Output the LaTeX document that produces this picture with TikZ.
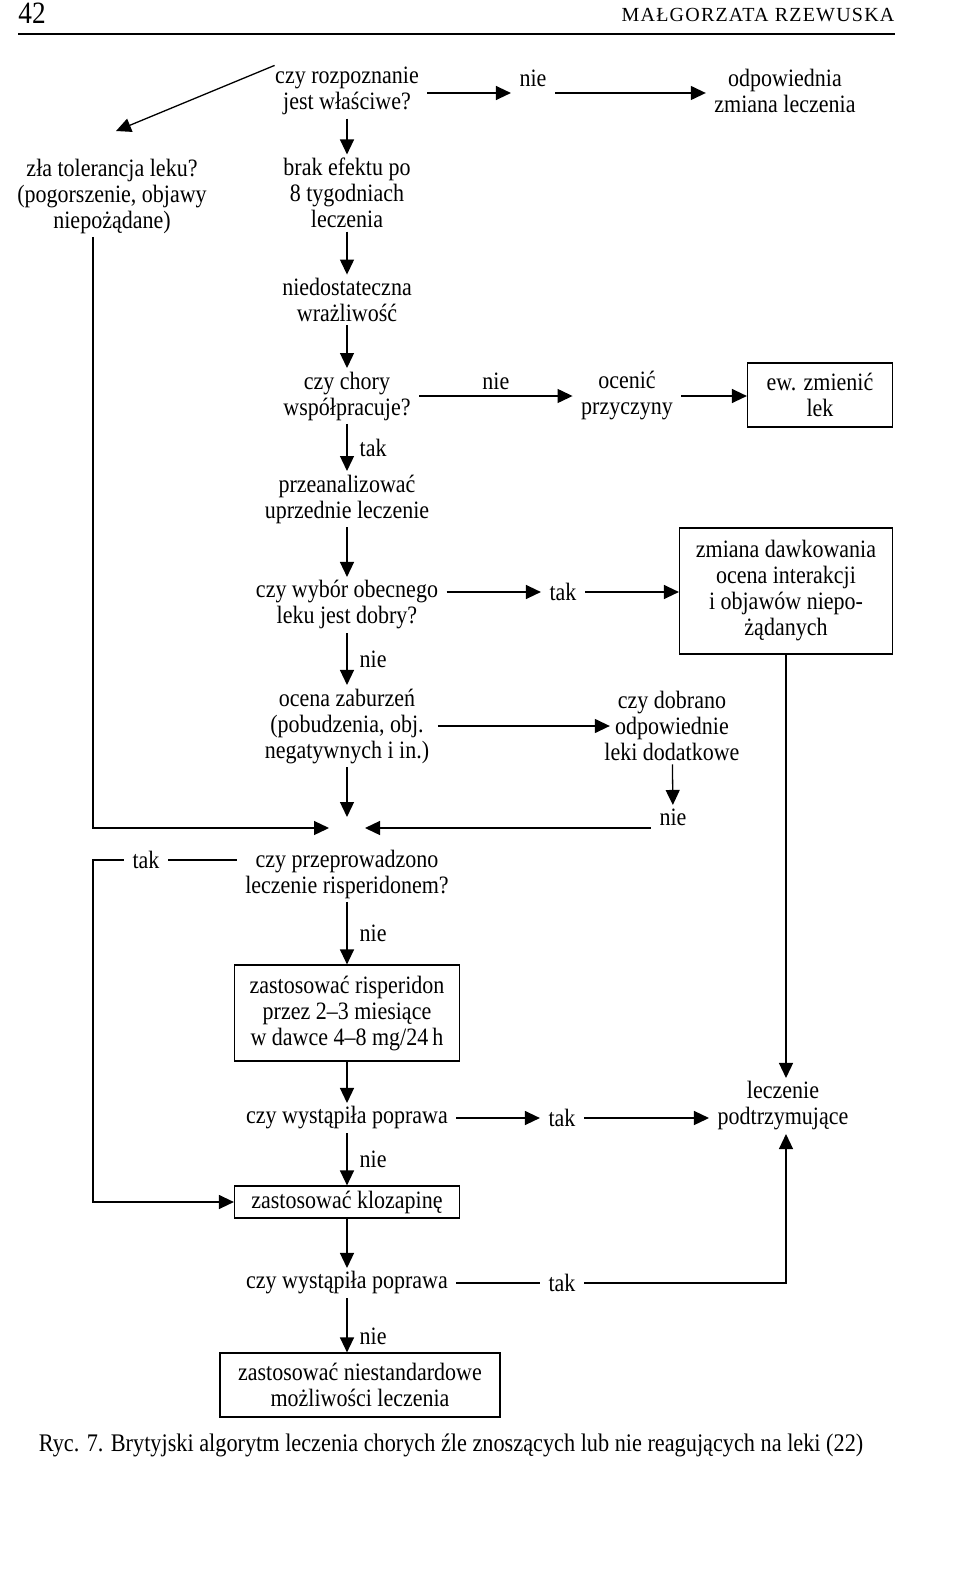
\documentclass[tikz,border=0pt]{standalone}
\usepackage{fontspec}
\setmainfont[FakeStretch=0.88]{Liberation Serif}
\newfontfamily\headfont[LetterSpace=6]{Liberation Serif}
\usetikzlibrary{calc,shapes,arrows,arrows.meta}

\begin{document}
\begin{tikzpicture}[x=1pt,y=-1pt,line width=1.3pt,
  every node/.style={font=\fontsize{25}{26}\selectfont,align=center,inner xsep=8pt,inner ysep=3pt},
  box/.style={draw,line width=1.2pt},
  arr/.style={-{Triangle[length=15pt,width=14pt]}}]
\useasboundingbox (0,0) rectangle (960,1581);
\node (strona) at (32,13) {\fontsize{31}{32}\selectfont 42};
\node[anchor=east,inner sep=0pt] (autor) at (895,15) {\headfont\fontsize{20}{22}\selectfont MAŁGORZATA RZEWUSKA};
\draw[line width=1.6pt] (18,34) -- (895,34);
\node (rozp) at (347,91) {czy rozpoznanie\\jest właściwe?};
\node (nieA) at (533,78) {nie};
\node (odpow) at (785,91) {odpowiednia\\zmiana leczenia};
\node (zla) at (112,196) {zła tolerancja leku?\\(pogorszenie, objawy\\niepożądane)};
\node (brak) at (347,193) {brak efektu po\\8 tygodniach\\leczenia};
\node (niedost) at (347,300) {niedostateczna\\wrażliwość};
\node (chory) at (347,396) {czy chory\\współpracuje?};
\node (ocenic) at (627,396) {ocenić\\przyczyny};
\node[box,minimum width=145pt,minimum height=64pt] (ewlek) at (820,395) {ew. zmienić\\lek};
\node (przean) at (347,499) {przeanalizować\\uprzednie leczenie};
\node (wybor) at (347,605) {czy wybór obecnego\\leku jest dobry?};
\node (takB) at (563,592) {tak};
\node[box,minimum width=213pt,minimum height=126pt] (zmiana) at (786,591) {zmiana dawkowania\\ocena interakcji\\i objawów niepo-\\żądanych};
\node (ocena) at (347,726) {ocena zaburzeń\\(pobudzenia, obj.\\negatywnych i in.)};
\node (dobrano) at (672,726) {czy dobrano\\odpowiednie\\leki dodatkowe};
\node (nieD) at (673,817) {nie};
\coordinate (J) at (347,828);
\node (prowadz) at (347,874) {czy przeprowadzono\\leczenie risperidonem?};
\node (takC) at (146,860) {tak};
\node[box,minimum width=225pt,minimum height=96pt] (risp) at (347,1013) {zastosować risperidon\\przez 2--3 miesiące\\w dawce 4--8 mg/24\,h};
\node (poprawaA) at (347,1118) {czy wystąpiła poprawa};
\node (takD) at (562,1118) {tak};
\node (leczenie) at (783,1106) {leczenie\\podtrzymujące};
\node[box,minimum width=225pt,minimum height=32pt] (kloz) at (347,1202) {zastosować klozapinę};
\node (poprawaB) at (347,1283) {czy wystąpiła poprawa};
\node (takE) at (562,1283) {tak};
\node[box,minimum width=280pt,minimum height=64pt] (niest) at (360,1385) {zastosować niestandardowe\\możliwości leczenia};
\node (ryc) at (451,1445) {\fontsize{25.3}{27}\selectfont Ryc. 7. Brytyjski algorytm leczenia chorych źle znoszących lub nie reagujących na leki (22)};

\draw[arr] ([yshift=-2pt]rozp.east) -- ([yshift=-2pt]rozp.east -| nieA.west);
\draw[arr] ([yshift=-2pt]rozp.east -| nieA.east) -- ([yshift=-2pt]rozp.east -| odpow.west);
\draw[arr] ([shift={(8pt,-2pt)}]rozp.north west) -- ([shift={(4pt,24pt)}]zla.north);
\draw[arr] (rozp) -- (brak);
\draw[arr] (brak) -- (niedost);
\draw[arr] (niedost) -- (chory);
\draw[arr] (chory) -- node[above=3pt] (nieB) {nie} (ocenic);
\draw[arr] (ocenic) -- (ocenic -| ewlek.west);
\draw[arr] (chory) -- node[right=4pt] (takA) {tak} (przean);
\draw[arr] (przean) -- (wybor);
\draw[arr] (wybor.east |- takB) -- (takB);
\draw[arr] (takB) -- (takB -| zmiana.west);
\draw[arr] (wybor) -- node[right=4pt] (nieC) {nie} (ocena);
\draw[arr] (ocena) -- ([xshift=14pt]dobrano.west);
\draw[arr] (dobrano) -- (nieD);
\draw[arr] (nieD.west |- J) -- ([xshift=18pt]J);
\draw[arr] (ocena) -- ([yshift=11pt]J);
\draw[arr] ([xshift=-19pt]zla.south) |- ([xshift=-18pt]J);
\draw (prowadz.west |- takC) -- (takC);
\draw[arr] (takC.west) -- ++(-31,0) |- (kloz.west);
\draw[arr] (prowadz) -- node[right=4pt] (nieE) {nie} (risp);
\draw[arr] (risp) -- (poprawaA);
\draw[arr] (poprawaA) -- (takD);
\draw[arr] (takD) -- (takD -| leczenie.west);
\draw[arr] (poprawaA) -- node[right=4pt] (nieF) {nie} (kloz);
\draw[arr] (kloz) -- (poprawaB);
\draw (poprawaB) -- (takE);
\draw[arr] (takE) -| (zmiana.south |- leczenie.south);
\draw[arr] (zmiana.south) -- (zmiana.south |- leczenie.north);
\draw[arr] (poprawaB) -- node[pos=0.7,right=4pt] (nieG) {nie} (poprawaB |- niest.north);
\end{tikzpicture}
\end{document}
